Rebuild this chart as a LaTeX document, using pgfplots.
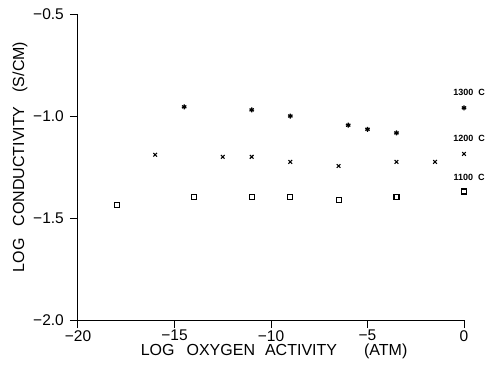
\documentclass[border=0pt]{standalone}
\usepackage{fontspec}
\setmainfont{Liberation Sans}
\usepackage{pgfplots}
\pgfplotsset{compat=1.18}
\begin{document}
\begin{tikzpicture}
\useasboundingbox (-78pt,-48pt) rectangle (412pt,320pt);
\begin{axis}[
  at={(0pt,0pt)}, anchor=south west,
  width=386pt, height=306pt, scale only axis,
  xmin=-20, xmax=0, ymin=-2, ymax=-0.5,
  axis lines=left, axis line style={-, line width=1pt},
  tick align=outside, major tick length=8pt,
  tick style={line width=1pt, black},
  xtick={-20,-15,-10,-5,0}, xticklabels={−20,−15,−10,−5,0},
  ytick={-2,-1.5,-1,-0.5}, yticklabels={−2.0,−1.5,−1.0,−0.5},
  tick label style={font=\fontsize{15.5}{15.5}\selectfont, inner sep=0pt},
  xticklabel style={yshift=-2pt},
  yticklabel style={xshift=-6pt},
  clip=false,
  xlabel={LOG\hspace{12pt}OXYGEN\hspace{10pt}ACTIVITY\hspace{27pt}(ATM)},
  ylabel={LOG\hspace{12pt}CONDUCTIVITY\hspace{14pt}(S/CM)},
  label style={font=\fontsize{16}{16}\selectfont, inner sep=0pt},
  xlabel style={at={(axis description cs:0.508,-0.103)}, anchor=center},
  ylabel style={at={(axis description cs:-0.150,0.533)}, anchor=center},
]
\addplot[only marks, mark=asterisk, mark size=2.5pt, line width=1.3pt] coordinates {
  (-14.5,-0.955) (-11,-0.97) (-9,-1.0) (-6,-1.045) (-5,-1.065) (-3.5,-1.083) (0,-0.96)};
\addplot[only marks, mark=x, mark size=2.6pt, line width=1.1pt] coordinates {
  (-16,-1.19) (-12.5,-1.20) (-11,-1.20) (-9,-1.225) (-6.5,-1.245) (-3.5,-1.225) (-1.5,-1.225) (0,-1.186)};
\addplot[only marks, mark=square, mark size=2.5pt, line width=1.1pt] coordinates {
  (-18,-1.436) (-14,-1.397) (-11,-1.397) (-9,-1.397) (-6.5,-1.41) (-3.5,-1.397) (0,-1.37)};
\node[font=\bfseries\fontsize{9}{9}\selectfont] at (axis cs:0.26,-0.882) {1300\hspace{5pt}C};
\node[font=\bfseries\fontsize{9}{9}\selectfont] at (axis cs:0.26,-1.108) {1200\hspace{5pt}C};
\node[font=\bfseries\fontsize{9}{9}\selectfont] at (axis cs:0.26,-1.300) {1100\hspace{5pt}C};
\end{axis}
\end{tikzpicture}
\end{document}
